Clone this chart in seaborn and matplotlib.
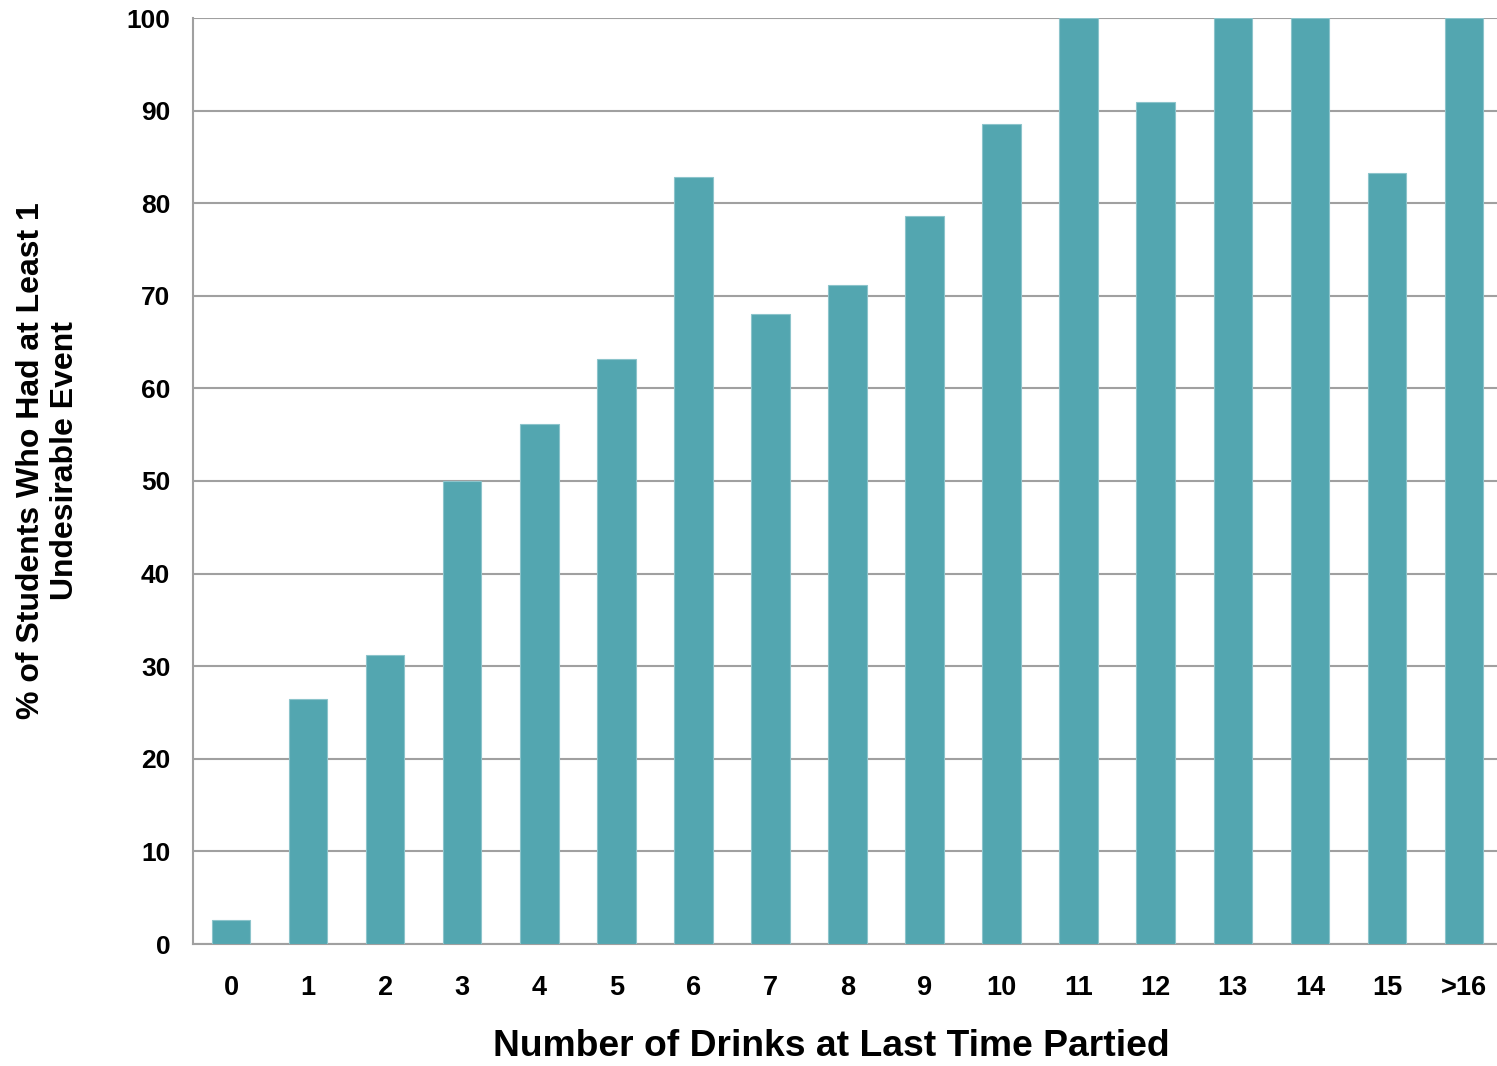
import matplotlib
matplotlib.use("Agg")
import matplotlib.pyplot as plt
import seaborn as sns
import pandas as pd
import numpy as np

categories = ["0", "1", "2", "3", "4", "5", "6", "7", "8", "9", "10", "11", "12", "13", "14", "15", ">16"]
values = [2.6, 26.5, 31.2, 50.0, 56.2, 63.2, 82.8, 68.0, 71.2, 78.6, 88.6, 100.0, 90.9, 100.0, 100.0, 83.3, 100.0]
yticks = [0, 10, 20, 30, 40, 50, 60, 70, 80, 90, 100]

sns.set_theme(style="white")
plt.rcParams['font.family'] = ['Liberation Sans', 'DejaVu Sans']
plt.rcParams['text.color'] = 'black'
plt.rcParams['axes.labelcolor'] = 'black'
plt.rcParams['xtick.labelcolor'] = 'black'
plt.rcParams['ytick.labelcolor'] = 'black'

df = pd.DataFrame({"drinks": categories, "pct": values})

fig = plt.figure(figsize=(14.97, 10.66), dpi=100)
ax = fig.add_axes([192.5/1497, 1 - 944/1066, (1502.5-192.5)/1497, (944-18)/1066])

sns.barplot(data=df, x="drinks", y="pct", order=categories, color="#53A6B0",
            saturation=1, width=0.5, ax=ax, zorder=3, edgecolor="#8CC4CB", linewidth=0.8)

ax.set_ylim(0, 100)
ax.set_xlim(-0.5, len(categories) - 0.5)
ax.set_yticks(yticks)
ax.set_yticklabels([str(t) for t in yticks], fontsize=19, fontweight="bold")
ax.yaxis.grid(True, color="#A0A0A0", linewidth=1.5, zorder=0)
ax.set_axisbelow(True)

ax.set_xticks(range(len(categories)))
ax.set_xticklabels(categories, fontsize=19.5, fontweight="bold")
ax.set_xticks(np.arange(-0.5, len(categories), 1.0), minor=True)
ax.tick_params(axis="x", which="major", length=0, pad=22)
ax.tick_params(axis="x", which="minor", length=6, width=1.5, color="#A0A0A0", direction="out")
ax.tick_params(axis="y", which="major", length=5, width=1.5, color="#A0A0A0", direction="out", pad=11)

for s in ["top", "right"]:
    ax.spines[s].set_visible(False)
for s in ["left", "bottom"]:
    ax.spines[s].set_color("#A0A0A0")
    ax.spines[s].set_linewidth(1.5)

ax.set_xlabel("Number of Drinks at Last Time Partied", fontsize=26.8, fontweight="bold")
ax.set_ylabel("% of Students Who Had at Least 1\nUndesirable Event", fontsize=23, fontweight="bold",
              va="center", ha="center")
ax.xaxis.set_label_coords((831 - 192.5) / 1310, -(1047 - 944) / 926)
ax.xaxis.label.set_va("center")
ax.yaxis.set_label_coords((48 - 192.5) / 1310, (944 - 461) / 926)

fig.savefig("out.png", dpi=100)
